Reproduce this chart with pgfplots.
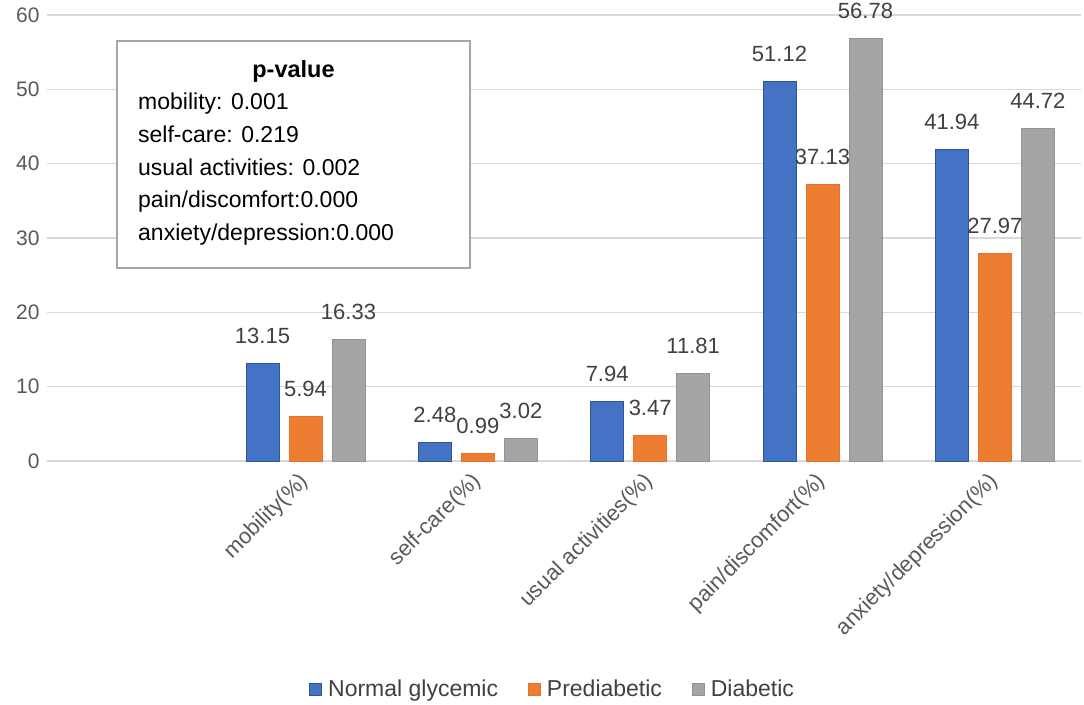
\documentclass[border=0pt]{standalone}
\usepackage{pgfplots}
\pgfplotsset{compat=1.18}
\usepackage{fontspec}
\setmainfont{Liberation Sans}
\definecolor{cblue}{HTML}{4472C4}
\definecolor{cblueD}{HTML}{2F5597}
\definecolor{corange}{HTML}{ED7D31}
\definecolor{corangeD}{HTML}{E8712A}
\definecolor{cgray}{HTML}{A5A5A5}
\definecolor{cgrayD}{HTML}{939393}
\definecolor{gridc}{HTML}{D9D9D9}
\definecolor{tickc}{HTML}{595959}
\definecolor{labc}{HTML}{404040}
\definecolor{boxc}{HTML}{A6A6A6}
\begin{document}
\begin{tikzpicture}
\useasboundingbox (0,0) rectangle (1084pt,704pt);
\begin{axis}[
  at={(47pt,243pt)}, anchor=south west,
  scale only axis, width=1034pt, height=446pt,
  ybar=10pt, bar width=33pt,
  xmin=-0.5, xmax=5.5, ymin=0, ymax=60,
  ytick={0,10,...,60},
  xtick={1,2,3,4,5},
  xticklabels={mobility(\%),self-care(\%),usual activities(\%),pain/discomfort(\%),anxiety/depression(\%)},
  /pgf/number format/assume math mode=true,
  axis line style={draw=none},
  major tick length=0pt,
  ymajorgrids, grid style={gridc, line width=1.3pt},
  yticklabel style={font=\fontsize{21}{25}\selectfont, text=tickc, xshift=-4pt},
  xticklabel style={font=\fontsize{22}{26}\selectfont, text=tickc, yshift=-15pt, xshift=2pt, rotate=45, anchor=east},
  point meta=explicit symbolic,
  nodes near coords,
  every node near coord/.append style={font=\fontsize{22}{26}\selectfont, text=labc, anchor=base, yshift=20pt},
  legend columns=3,
  legend style={draw=none, at={(0.489,-0.511)}, anchor=center, font=\fontsize{23}{27}\selectfont, text=labc,
    /tikz/every odd column/.append style={column sep=4pt},
    /tikz/every even column/.append style={column sep=28pt}},
  legend image code/.code={\draw[#1, line width=0.8pt] (0pt,-6pt) rectangle (12pt,6pt);},
]
\addplot[fill=cblue, draw=cblueD, line width=1pt] coordinates {(1,13.15)[13.15] (2,2.48)[2.48] (3,7.94)[7.94] (4,51.12)[51.12] (5,41.94)[41.94]};
\addplot[fill=corange, draw=corangeD, line width=1pt] coordinates {(1,5.94)[5.94] (2,0.99)[0.99] (3,3.47)[3.47] (4,37.13)[37.13] (5,27.97)[27.97]};
\addplot[fill=cgray, draw=cgrayD, line width=1pt] coordinates {(1,16.33)[16.33] (2,3.02)[3.02] (3,11.81)[11.81] (4,56.78)[56.78] (5,44.72)[44.72]};
\legend{Normal glycemic, Prediabetic, Diabetic}
\end{axis}
\draw[fill=white, draw=boxc, line width=1.3pt] (117pt,663pt) rectangle (470pt,436pt);
\begin{scope}[every node/.style={inner sep=0pt, font=\fontsize{23}{27}\selectfont}]
\node[anchor=base, font=\fontsize{23.5}{27}\selectfont\bfseries] at (293.5pt,626pt) {p-value};
\node[anchor=base west] at (138pt,594pt) {mobility: 0.001};
\node[anchor=base west] at (138pt,561pt) {self-care: 0.219};
\node[anchor=base west] at (138pt,528pt) {usual activities: 0.002};
\node[anchor=base west] at (138pt,496pt) {pain/discomfort:0.000};
\node[anchor=base west] at (138pt,463pt) {anxiety/depression:0.000};
\end{scope}
\end{tikzpicture}
\end{document}
